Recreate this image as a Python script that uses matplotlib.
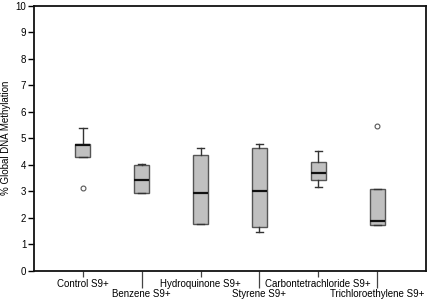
import numpy as np
import matplotlib
matplotlib.use('Agg')
import matplotlib.pyplot as plt

plt.rcParams['font.family'] = ['Liberation Sans', 'DejaVu Sans']

# box summary stats
groups = ['Control S9+', 'Benzene S9+', 'Hydroquinone S9+', 'Styrene S9+',
          'Carbontetrachloride S9+', 'Trichloroethylene S9+']
whislo = [4.29, 2.93, 1.76, 1.47, 3.15, 1.73]
q1 = [4.29, 2.93, 1.76, 1.66, 3.43, 1.73]
med = [4.75, 3.43, 2.93, 3.00, 3.70, 1.89]
q3 = [4.78, 3.98, 4.36, 4.62, 4.12, 3.10]
whishi = [5.37, 4.03, 4.62, 4.78, 4.53, 3.10]
fliers = [[3.11], [], [], [], [], [5.47]]

stats = []
for i in range(len(groups)):
    stats.append(dict(whislo=whislo[i], q1=q1[i], med=med[i], q3=q3[i],
                      whishi=whishi[i], fliers=fliers[i]))

fig = plt.figure(figsize=(4.3, 3.02), dpi=100)
ax = fig.add_axes([0.079, 0.1026, 0.912, 0.879])

pos = np.arange(1, len(groups) + 1)
ax.bxp(stats, positions=pos, widths=0.255, patch_artist=True,
       boxprops=dict(facecolor='#c0c0c0', edgecolor='#555555', linewidth=1.0),
       medianprops=dict(color='#111111', linewidth=1.6),
       whiskerprops=dict(color='#333333', linewidth=1.0),
       capprops=dict(color='#333333', linewidth=1.0),
       capwidths=0.12,
       flierprops=dict(marker='o', markersize=3.5, markerfacecolor='none',
                       markeredgecolor='#555555', markeredgewidth=0.8))

ax.set_xlim(0.167, 6.833)
ax.set_ylim(0, 10)
ax.set_yticks(range(0, 11))
ax.tick_params(axis='y', labelsize=7, length=4, width=1.0, pad=1.5)

# alternating short / long x ticks
ax.set_xticks(pos[0::2])
ax.set_xticklabels(groups[0::2])
ax.set_xticks(pos[1::2], minor=True)
ax.set_xticklabels(groups[1::2], minor=True)
ax.tick_params(axis='x', which='major', labelsize=7, length=4.3, width=0.9,
               color='#444444', pad=1.5)
ax.tick_params(axis='x', which='minor', labelsize=7, length=12, width=0.9,
               color='#444444', pad=1.0)

ax.set_ylabel('% Global DNA Methylation', fontsize=7)
ax.yaxis.set_label_coords(-0.0574, 0.5)

for s in ax.spines.values():
    s.set_linewidth(1.3)
    s.set_color('#111111')

fig.savefig('out.png', dpi=100)
